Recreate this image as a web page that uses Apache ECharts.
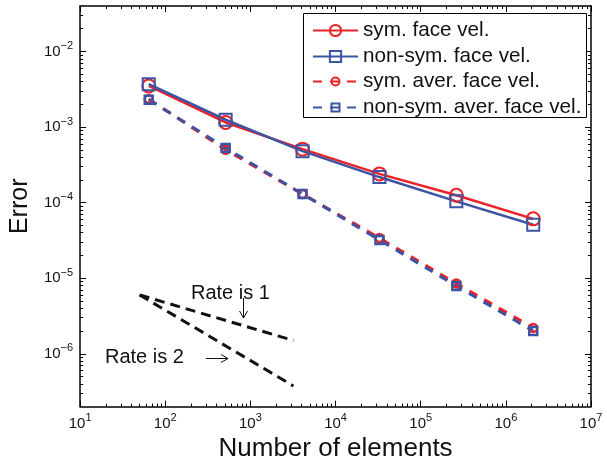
<!DOCTYPE html>
<html>
<head>
<meta charset="utf-8">
<script src="https://cdn.jsdelivr.net/npm/echarts@6/dist/echarts.min.js"></script>
<style>
  html, body { margin: 0; padding: 0; background: #fff; }
  #chart { width: 607px; height: 467px; }
</style>
</head>
<body>
<div id="chart"></div>
<script>
  // number of elements (8^2 ... 8^7)
  var elements = [64, 512, 4096, 32768, 262144, 2097152];
  var symFace = [3.5e-3, 1.15e-3, 5.1e-4, 2.4e-4, 1.25e-4, 6.1e-5];
  var nonSymFace = [3.7e-3, 1.25e-3, 4.8e-4, 2.18e-4, 1.04e-4, 5.1e-5];
  var symAver = [2.35e-3, 5.0e-4, 1.3e-4, 3.4e-5, 8.5e-6, 2.2e-6];
  var nonSymAver = [2.3e-3, 5.3e-4, 1.3e-4, 3.2e-5, 7.9e-6, 2.0e-6];
  // reference slopes
  var rateX = [50, 3200];
  var rate1 = [6e-6, 1.5e-6];
  var rate2 = [6e-6, 3.75e-7];
  // tick labels
  var xMajor = [1e1, 1e2, 1e3, 1e4, 1e5, 1e6, 1e7];
  var yMajor = [1e-6, 1e-5, 1e-4, 1e-3, 1e-2];

  var RED = '#ec2227';
  var BLUE = '#3b54a3';
  var FONT = '"Liberation Sans", Arial, Helvetica, sans-serif';
  var xMin = 10, xMax = 1e7, yMin = 2e-7, yMax = 4e-2;

  function minorTicks(lo, hi) {
    var out = [];
    for (var e = -8; e <= 8; e++) {
      for (var m = 2; m <= 9; m++) {
        var v = m * Math.pow(10, e);
        if (v > lo && v < hi) out.push(v);
      }
    }
    return out;
  }
  var xMinor = minorTicks(xMin, xMax);
  var yMinor = minorTicks(yMin, yMax);

  function pairs(xs, ys) {
    return xs.map(function (x, i) { return [x, ys[i]]; });
  }

  function supFmt(v) {
    var e = Math.round(Math.log(v) / Math.LN10);
    return '{b|10}{s|' + String(e).replace('-', '\u2212') + '}';
  }

  var labelRich = {
    b: { fontSize: 15, lineHeight: 22, fontFamily: FONT, color: '#111' },
    s: { fontSize: 11, lineHeight: 12, fontFamily: FONT, color: '#111', verticalAlign: 'top' }
  };

  function axis(kind, pos, ticks, len, showLine, withLabels) {
    var a = {
      type: 'log',
      logBase: 10,
      position: pos,
      min: kind === 'x' ? xMin : yMin,
      max: kind === 'x' ? xMax : yMax,
      splitLine: { show: false },
      axisLine: { show: showLine, lineStyle: { color: '#000', width: 1.5 } },
      axisTick: { show: true, inside: true, length: len, customValues: ticks,
                  lineStyle: { color: '#000', width: 1 } },
      axisLabel: { show: false }
    };
    if (withLabels) {
      a.axisLabel = {
        show: true,
        customValues: ticks,
        margin: kind === 'x' ? 6 : 7,
        formatter: supFmt,
        rich: labelRich
      };
    }
    return a;
  }

  var xAxisMain = axis('x', 'bottom', xMajor, 6, true, true);
  xAxisMain.name = 'Number of elements';
  xAxisMain.nameLocation = 'middle';
  xAxisMain.nameGap = 27;
  xAxisMain.nameTextStyle = { fontSize: 26, fontFamily: FONT, color: '#111', verticalAlign: 'top' };

  var yAxisMain = axis('y', 'left', yMajor, 6, true, true);
  yAxisMain.name = 'Error';
  yAxisMain.nameLocation = 'middle';
  yAxisMain.nameGap = 40;
  yAxisMain.nameTextStyle = { fontSize: 25, fontFamily: FONT, color: '#111' };

  function lineSeries(name, ys, color, dashed, symbol, size) {
    return {
      name: name,
      type: 'line',
      data: pairs(elements, ys),
      symbol: symbol,
      symbolSize: size,
      showSymbol: true,
      lineStyle: { color: color, width: dashed ? 3 : 2.5, type: dashed ? [9, 8] : 'solid' },
      itemStyle: { color: 'rgba(255,255,255,0)', borderColor: color, borderWidth: dashed ? 2.5 : 2 },
      emphasis: { disabled: true },
      animation: false
    };
  }

  function refSeries(ys) {
    return {
      type: 'line',
      data: pairs(rateX, ys),
      symbol: 'none',
      lineStyle: { color: '#111', width: 3, type: [10, 6] },
      emphasis: { disabled: true },
      animation: false,
      z: 1
    };
  }

  var legendText = { fontSize: 20.7, fontFamily: FONT, color: '#111', lineHeight: 20 };

  var option = {
    backgroundColor: '#fff',
    animation: false,
    grid: { left: 79, right: 16, top: 6, bottom: 59, containLabel: false },
    xAxis: [
      xAxisMain,
      axis('x', 'bottom', xMinor, 3, false, false),
      axis('x', 'top', xMajor, 6, true, false),
      axis('x', 'top', xMinor, 3, false, false)
    ],
    yAxis: [
      yAxisMain,
      axis('y', 'left', yMinor, 3, false, false),
      axis('y', 'right', yMajor, 6, true, false),
      axis('y', 'right', yMinor, 3, false, false)
    ],
    legend: [
      {
        data: ['sym. face vel.', 'non-sym. face vel.'],
        orient: 'vertical', left: 312, top: 20, padding: 0,
        itemWidth: 45, itemHeight: 14, itemGap: 5,
        selectedMode: false, textStyle: legendText, z: 5
      },
      {
        data: ['sym. aver. face vel.', 'non-sym. aver. face vel.'],
        orient: 'vertical', left: 312, top: 71, padding: 0,
        itemWidth: 45, itemHeight: 10, itemGap: 5,
        selectedMode: false, textStyle: legendText, z: 5
      }
    ],
    series: [
      lineSeries('sym. face vel.', symFace, RED, false, 'circle', 13),
      lineSeries('non-sym. face vel.', nonSymFace, BLUE, false, 'rect', 12),
      lineSeries('sym. aver. face vel.', symAver, RED, true, 'circle', 8),
      lineSeries('non-sym. aver. face vel.', nonSymAver, BLUE, true, 'rect', 8),
      refSeries(rate1),
      refSeries(rate2)
    ],
    graphic: [
      { type: 'rect', z: 3, shape: { x: 303.5, y: 13.5, width: 283, height: 104 },
        style: { fill: '#fff', stroke: '#000', lineWidth: 1 } },
      { type: 'text', z: 3, style: { text: 'Rate is 1', x: 191, y: 293, font: '20px ' + FONT,
        fill: '#111', textVerticalAlign: 'middle' } },
      { type: 'text', z: 3, style: { text: 'Rate is 2', x: 105, y: 357, font: '20px ' + FONT,
        fill: '#111', textVerticalAlign: 'middle' } },
      { type: 'line', z: 3, shape: { x1: 243.5, y1: 298, x2: 243.5, y2: 318 },
        style: { stroke: '#111', lineWidth: 1 } },
      { type: 'polyline', z: 3, shape: { points: [[239.5, 311], [243.5, 318], [247.5, 311]] },
        style: { stroke: '#111', lineWidth: 1, fill: null } },
      { type: 'line', z: 3, shape: { x1: 206, y1: 358.5, x2: 228, y2: 358.5 },
        style: { stroke: '#111', lineWidth: 1 } },
      { type: 'polyline', z: 3, shape: { points: [[221, 354.5], [228, 358.5], [221, 362.5]] },
        style: { stroke: '#111', lineWidth: 1, fill: null } }
    ]
  };

  var chart = echarts.init(document.getElementById('chart'));
  chart.setOption(option);
</script>
</body>
</html>
